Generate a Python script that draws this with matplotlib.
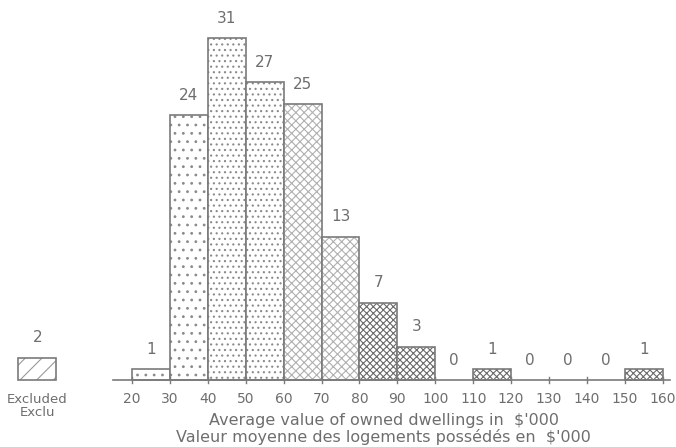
import numpy as np
import matplotlib
matplotlib.use("Agg")
from matplotlib import pyplot as plt

# data
bin_left = [20, 30, 40, 50, 60, 70, 80, 90, 100, 110, 120, 130, 140, 150]
counts = [1, 24, 31, 27, 25, 13, 7, 3, 0, 1, 0, 0, 0, 1]
hatches = ["..", "..", "...", "...", "xxxx", "xxxx", "xxxxx", "xxxxx", "xxxxx",
           "xxxxx", "xxxxx", "xxxxx", "xxxxx", "xxxxx"]
hatch_cols = ["#8a8a8a", "#8a8a8a", "#8a8a8a", "#8a8a8a", "#b0b0b0", "#b0b0b0",
              "#6a6a6a", "#6a6a6a", "#6a6a6a", "#6a6a6a", "#6a6a6a", "#6a6a6a",
              "#6a6a6a", "#6a6a6a"]
excluded = 2
xticks = list(range(20, 161, 10))

grey = "#7a7a7a"
text_grey = "#6e6e6e"
plt.rcParams["hatch.linewidth"] = 0.8

fig = plt.figure(figsize=(6.76, 4.47), dpi=100)
ax = fig.add_axes([0, 0, 1, 1])
ax.set_xlim(-14.83, 163.5)
ax.set_ylim(-6.07, 34.45)
ax.axis("off")

# histogram bars: hatch layer, then outline
for x, c, h, hc in zip(bin_left, counts, hatches, hatch_cols):
    if c > 0:
        ax.bar(x, c, width=10, align="edge", facecolor="white",
               edgecolor=hc, hatch=h, linewidth=0)
        ax.bar(x, c, width=10, align="edge", fill=False,
               edgecolor=grey, linewidth=1.2)
    ax.annotate(str(c), (x + 5, c), xytext=(0, 20), textcoords="offset pixels",
                ha="center", va="center", fontsize=11, color=text_grey)

# excluded box
ax.bar(-10, excluded, width=10, align="edge", facecolor="white",
       edgecolor="#9a9a9a", hatch="//", linewidth=0)
ax.bar(-10, excluded, width=10, align="edge", fill=False,
       edgecolor=grey, linewidth=1.2)
ax.annotate(str(excluded), (-5, excluded), xytext=(0, 20), textcoords="offset pixels",
            ha="center", va="center", fontsize=11, color=text_grey)
ax.text(-5, -2.09, "Excluded", ha="center", va="baseline", fontsize=9.5, color=text_grey)
ax.text(-5, -3.26, "Exclu", ha="center", va="baseline", fontsize=9.5, color=text_grey)

# axis line and ticks
ax.plot([15, 162], [0, 0], color=grey, lw=1.2)
for t in xticks:
    ax.plot([t, t], [-0.3, 0.3], color=grey, lw=1.0)
    ax.text(t, -2.09, str(t), ha="center", va="baseline", fontsize=10, color=text_grey)

ax.text(86.4, -4.08, "Average value of owned dwellings in  $'000", ha="center",
        va="baseline", fontsize=11.5, color=text_grey)
ax.text(86.4, -5.62, "Valeur moyenne des logements possédés en  $'000", ha="center",
        va="baseline", fontsize=11.5, color=text_grey)

fig.savefig("out.png", dpi=100)
